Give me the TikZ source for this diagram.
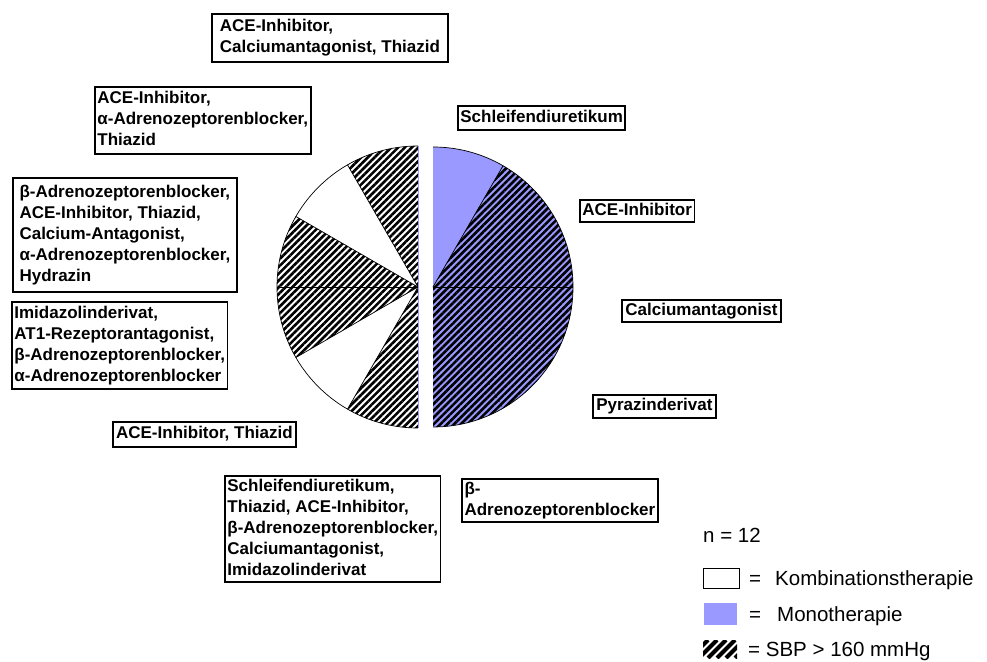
\documentclass[tikz,border=0pt]{standalone}
\usepackage{fontspec}
\setmainfont{Liberation Sans}
\usetikzlibrary{patterns.meta}
\definecolor{mono}{RGB}{153,153,255}
\tikzset{
  lbl/.style={draw, line width=1.8pt, anchor=north west, inner xsep=2.5pt, inner ysep=0.5pt,
    font=\bfseries\fontsize{17}{21}\selectfont},
  hatch/.style={pattern={Lines[angle=45,distance=4.8pt,line width=2.6pt]}, pattern color=black},
  slice/.style={draw=black, line width=0.7pt},
  leg/.style={anchor=base west, inner sep=0pt, font=\fontsize{20.5}{24}\selectfont},
}
\newcommand{\lines}[1]{\begin{tabular}{@{}l@{}}#1\end{tabular}}
\begin{document}
\begin{tikzpicture}[x=1pt,y=1pt]
\fill[white] (0,0) rectangle (987,661);
\useasboundingbox (0,0) rectangle (987,661);

% ---- pie, right half (monotherapy)
\coordinate (R) at (433,374);
\fill[mono] (R) -- ++(-90:140) arc[start angle=-90,end angle=90,radius=140] -- cycle;
\fill[hatch] (R) -- ++(-90:140) arc[start angle=-90,end angle=60,radius=140] -- cycle;
\draw[slice] (R) ++(-90:140) arc[start angle=-90,end angle=90,radius=140];
\draw[slice] (R) -- ++(60:140);
\draw[slice] (R) -- ++(0:140);
\draw[slice, densely dashed, line width=0.5pt] (R) -- ++(-30:140);
\draw[slice, densely dashed, line width=0.5pt] (R) -- ++(-60:140);

% ---- pie, left half (combination therapy)
\coordinate (L) at (418,374);
\fill[hatch] (L) -- ++(90:141) arc[start angle=90,end angle=120,radius=141] -- cycle;
\fill[hatch] (L) -- ++(150:141) arc[start angle=150,end angle=210,radius=141] -- cycle;
\fill[hatch] (L) -- ++(240:141) arc[start angle=240,end angle=270,radius=141] -- cycle;
\draw[slice] (L) ++(90:141) arc[start angle=90,end angle=270,radius=141];
\foreach \a in {120,150,180,210,240} \draw[slice] (L) -- ++(\a:141);
\draw[mono, line width=0.8pt] (L) ++(90:141) -- ++(0,-282);

% ---- labels
\node[lbl, minimum width=236pt, minimum height=48pt] (b1) at (211,648)
  {\lines{ACE-Inhibitor,\\Calciumantagonist, Thiazid}};
\node[lbl, minimum width=212pt, minimum height=67pt] (b2) at (94,575)
  {\lines{ACE-Inhibitor,\\α-Adrenozeptorenblocker,\\Thiazid}};
\node[lbl, minimum width=224pt, minimum height=114pt] (b3) at (12,484)
  {\lines{β-Adrenozeptorenblocker,\\ACE-Inhibitor, Thiazid,\\Calcium-Antagonist,\\α-Adrenozeptorenblocker,\\Hydrazin}};
\node[lbl, minimum width=214pt, minimum height=87pt] (b4) at (11,360)
  {\lines{Imidazolinderivat,\\AT1-Rezeptorantagonist,\\β-Adrenozeptorenblocker,\\α-Adrenozeptorenblocker}};
\node[lbl, minimum width=183pt, minimum height=25pt] (b5) at (112,240)
  {\lines{ACE-Inhibitor, Thiazid}};
\node[lbl, minimum width=213pt, minimum height=105pt] (b6) at (224,186)
  {\lines{Schleifendiuretikum,\\Thiazid, ACE-Inhibitor,\\β-Adrenozeptorenblocker,\\Calciumantagonist,\\Imidazolinderivat}};
\node[lbl, minimum width=196pt, minimum height=41pt] (b7) at (461,183)
  {\lines{β-\\Adrenozeptorenblocker}};
\node[lbl, minimum width=167pt, minimum height=24pt] (b8) at (457,556)
  {\lines{Schleifendiuretikum}};
\node[lbl, minimum width=114pt, minimum height=22pt] (b9) at (579,462)
  {\lines{ACE-Inhibitor}};
\node[lbl, minimum width=159pt, minimum height=22pt] (b10) at (621,362)
  {\lines{Calciumantagonist}};
\node[lbl, minimum width=123pt, minimum height=23pt] (b11) at (592,267)
  {\lines{Pyrazinderivat}};

% ---- legend
\node[leg] (n) at (703,118) {n = 12};
\draw[line width=0.9pt] (703,73) rectangle (739,93);
\node[leg] (e1) at (749,76) {=};
\node[leg] (t1) at (775,76) {Kombinationstherapie};
\fill[mono] (704,36) rectangle (737,58);
\node[leg] (e2) at (749,39.5) {=};
\node[leg] (t2) at (777,39.5) {Monotherapie};
\begin{scope}
  \clip (703,3) rectangle (737,21);
  \foreach \x in {690,699,708,717,726,735}
    \draw[line width=4pt] (\x,3) -- ++(18,18);
\end{scope}
\node[leg] (t3) at (748,5) {= SBP > 160 mmHg};
\end{tikzpicture}
\end{document}
